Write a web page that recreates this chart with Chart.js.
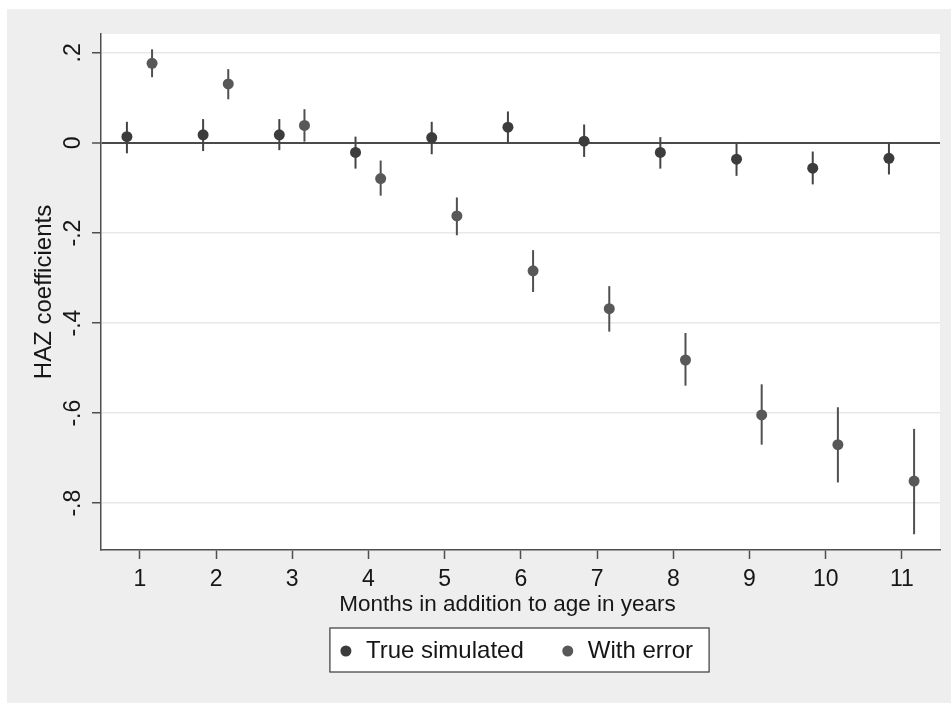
<!DOCTYPE html>
<html>
<head>
<meta charset="utf-8">
<script src="https://cdn.jsdelivr.net/npm/chart.js@4.4.1/dist/chart.umd.min.js"></script>
<style>
  html, body { margin: 0; padding: 0; background: #ffffff; }
  #wrap { position: absolute; left: 7px; top: 9px; width: 944px; height: 694px; background: #eeeeee; }
</style>
</head>
<body>
<div id="wrap"><canvas id="chart"></canvas></div>
<script>
const months = [1, 2, 3, 4, 5, 6, 7, 8, 9, 10, 11];

const trueCoef = [0.014, 0.018, 0.018, -0.021, 0.012, 0.035, 0.004, -0.021, -0.036, -0.056, -0.034];
const trueHi   = [0.047, 0.053, 0.053, 0.014, 0.047, 0.070, 0.041, 0.013, 0.000, -0.019, 0.001];
const trueLo   = [-0.023, -0.018, -0.016, -0.057, -0.025, 0.001, -0.031, -0.057, -0.073, -0.092, -0.070];

const errCoef = [0.177, 0.131, 0.039, -0.079, -0.162, -0.284, -0.368, -0.482, -0.604, -0.670, -0.751];
const errHi   = [0.208, 0.164, 0.075, -0.039, -0.121, -0.238, -0.318, -0.422, -0.536, -0.587, -0.635];
const errLo   = [0.146, 0.097, 0.003, -0.117, -0.205, -0.331, -0.419, -0.539, -0.670, -0.754, -0.869];

const yTicks = [0.2, 0, -0.2, -0.4, -0.6, -0.8];
const yTickLabels = ['.2', '0', '-.2', '-.4', '-.6', '-.8'];
const seriesNames = ['True simulated', 'With error'];
const xTitle = 'Months in addition to age in years';

const FONT = "'Liberation Sans', Arial, sans-serif";
const textColor = '#161616';
const axisColor = '#4f4f4f';
const trueColor = '#3c3c3c';
const errColor = '#585858';
const trueShift = -0.17;
const errShift = 0.16;

function points(shift, coef, lo, hi) {
    return months.map((m, i) => ({ x: m + shift, y: coef[i], lo: lo[i], hi: hi[i] }));
}

// white plot region
const plotBackground = {
    id: 'plotBackground',
    beforeDraw(chart) {
        const { ctx, chartArea: a } = chart;
        ctx.save();
        ctx.fillStyle = '#ffffff';
        ctx.fillRect(a.left, a.top, a.right - a.left, a.bottom - a.top);
        ctx.restore();
    }
};

// vertical confidence intervals
const errorBars = {
    id: 'errorBars',
    beforeDatasetsDraw(chart) {
        const { ctx, scales: { x, y } } = chart;
        ctx.save();
        ctx.lineWidth = 2;
        chart.data.datasets.forEach(ds => {
            ctx.strokeStyle = ds.barColor;
            ds.data.forEach(p => {
                const px = x.getPixelForValue(p.x);
                ctx.beginPath();
                ctx.moveTo(px, y.getPixelForValue(p.lo));
                ctx.lineTo(px, y.getPixelForValue(p.hi));
                ctx.stroke();
            });
        });
        ctx.restore();
    }
};

// rotated y tick labels and the x title, stata style
const axisText = {
    id: 'axisText',
    afterDraw(chart) {
        const { ctx, scales: { x, y } } = chart;
        ctx.save();
        ctx.fillStyle = textColor;
        ctx.font = '23px ' + FONT;
        ctx.textAlign = 'center';
        ctx.textBaseline = 'alphabetic';
        yTicks.forEach((v, i) => {
            ctx.save();
            ctx.translate(y.left + 73, y.getPixelForValue(v));
            ctx.rotate(-Math.PI / 2);
            ctx.fillText(yTickLabels[i], 0, 0);
            ctx.restore();
        });
        ctx.font = '22.5px ' + FONT;
        ctx.textBaseline = 'middle';
        ctx.fillText(xTitle, (x.left + x.right) / 2 - 13, x.top + 55);
        ctx.restore();
    }
};

// boxed legend under the axis title
const boxLegend = {
    id: 'boxLegend',
    afterDraw(chart) {
        const { ctx, chartArea: a } = chart;
        const ds = chart.data.datasets;
        ctx.save();
        ctx.font = '24px ' + FONT;
        const widths = ds.map(d => ctx.measureText(d.label).width);
        const markGap = 20, itemGap = 44, pad = 16;
        let total = pad * 2 + itemGap * (ds.length - 1);
        widths.forEach(w => { total += markGap + w; });
        const cx = (a.left + a.right) / 2 - 1;
        const left = cx - total / 2;
        const top = a.bottom + 78;
        const h = 44;
        ctx.fillStyle = '#ffffff';
        ctx.fillRect(left, top, total, h);
        ctx.strokeStyle = '#3a3a3a';
        ctx.lineWidth = 1.2;
        ctx.strokeRect(left, top, total, h);
        let x = left + pad;
        const cy = top + h / 2 + 1;
        ds.forEach((d, i) => {
            ctx.fillStyle = d.pointBackgroundColor;
            ctx.beginPath();
            ctx.arc(x, cy, 5.5, 0, Math.PI * 2);
            ctx.fill();
            ctx.fillStyle = textColor;
            ctx.textBaseline = 'middle';
            ctx.textAlign = 'left';
            ctx.fillText(d.label, x + markGap, cy);
            x += markGap + widths[i] + itemGap;
        });
        ctx.restore();
    }
};

const ctx = document.getElementById('chart').getContext('2d');
new Chart(ctx, {
    type: 'scatter',
    data: {
        datasets: [
            {
                label: seriesNames[0],
                data: points(trueShift, trueCoef, trueLo, trueHi),
                pointRadius: 5.5,
                pointBackgroundColor: trueColor,
                pointBorderWidth: 0,
                barColor: '#444444'
            },
            {
                label: seriesNames[1],
                data: points(errShift, errCoef, errLo, errHi),
                pointRadius: 5.5,
                pointBackgroundColor: errColor,
                pointBorderWidth: 0,
                barColor: '#505050'
            }
        ]
    },
    options: {
        responsive: true,
        maintainAspectRatio: false,
        animation: false,
        events: [],
        layout: { padding: { top: 25, right: 11, left: 0, bottom: 83 } },
        plugins: {
            legend: { display: false },
            tooltip: { enabled: false }
        },
        scales: {
            x: {
                type: 'linear',
                min: 0.49,
                max: 11.5,
                afterBuildTicks: s => { s.ticks = months.map(v => ({ value: v })); },
                afterFit: s => { s.height = 70; },
                grid: { drawOnChartArea: false, drawTicks: true, tickLength: 9, tickColor: axisColor, tickWidth: 1.5 },
                border: { display: true, color: axisColor, width: 1.5 },
                ticks: { color: textColor, font: { family: FONT, size: 23 }, padding: 7, maxRotation: 0 }
            },
            y: {
                type: 'linear',
                min: -0.904,
                max: 0.242,
                afterBuildTicks: s => { s.ticks = yTicks.map(v => ({ value: v })); },
                afterFit: s => { s.width = 94; },
                grid: {
                    color: c => (c.tick && c.tick.value === 0) ? '#4a4a4a' : '#e8e8e8',
                    lineWidth: c => (c.tick && c.tick.value === 0) ? 2 : 1.5,
                    drawTicks: true,
                    tickLength: 9,
                    tickColor: axisColor,
                    tickWidth: 1.5
                },
                border: { display: true, color: axisColor, width: 1.5 },
                ticks: { display: false },
                title: {
                    display: true,
                    text: 'HAZ coefficients',
                    color: textColor,
                    font: { family: FONT, size: 24 },
                    padding: { top: 23, bottom: 0 }
                }
            }
        }
    },
    plugins: [plotBackground, errorBars, axisText, boxLegend]
});
</script>
</body>
</html>
